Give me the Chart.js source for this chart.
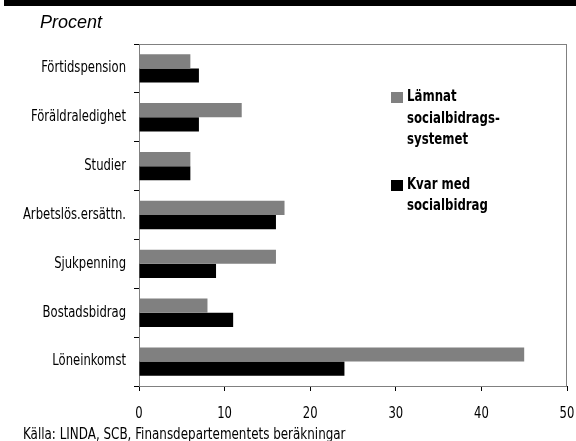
<!DOCTYPE html>
<html>
<head>
<meta charset="utf-8">
<script src="https://cdn.jsdelivr.net/npm/chart.js@4/dist/chart.umd.min.js"></script>
<style>
  html, body { margin: 0; padding: 0; background: #fff; }
  #wrap { position: relative; width: 576px; height: 441px; overflow: hidden; }
  #band { position: absolute; left: 4px; top: 0; width: 572px; height: 6px; background: #000; }
  #unit { position: absolute; left: 40px; top: 12px; font: italic 18px "Liberation Sans", Arial, sans-serif; color: #000; }
  #source { position: absolute; left: 23px; top: 425px; font: 15px "DejaVu Sans Condensed", sans-serif; color: #000; white-space: nowrap; transform: scaleX(0.885); transform-origin: 0 0; }
  #legend { position: absolute; left: 391px; top: 86px; font: bold 15px "DejaVu Sans Condensed", sans-serif; color: #000; }
  .item { position: relative; padding-left: 16px; line-height: 21.5px; }
  .item + .item { margin-top: 23px; }
  .swatch { position: absolute; left: 0; top: 6px; width: 12px; height: 11px; }
  .txt { transform: scaleX(0.87); transform-origin: 0 0; white-space: nowrap; }
  canvas { position: absolute; left: 0; top: 0; }
</style>
</head>
<body>
<div id="wrap">
  <canvas id="chart" width="576" height="441"></canvas>
  <div id="band"></div>
  <div id="unit">Procent</div>
  <div id="legend"></div>
  <div id="source">Källa: LINDA, SCB, Finansdepartementets beräkningar</div>
</div>
<script>
// Income source categories, top to bottom
const categories = ['Förtidspension', 'Föräldraledighet', 'Studier', 'Arbetslös.ersättn.', 'Sjukpenning', 'Bostadsbidrag', 'Löneinkomst'];
// Share (percent) of those who left social assistance
const lamnat = [6, 12, 6, 17, 16, 8, 45];
// Share (percent) of those remaining on social assistance
const kvar = [7, 7, 6, 16, 9, 11, 24];
// Legend text, one entry per line
const lamnatName = ['Lämnat', 'socialbidrags-', 'systemet'];
const kvarName = ['Kvar med', 'socialbidrag'];
const xTicks = [0, 10, 20, 30, 40, 50];

const GRAY = '#808080';
const BLACK = '#000000';
const FONT = '"DejaVu Sans Condensed", sans-serif';

const datasets = [
  { label: lamnatName.join(' '), lines: lamnatName, data: lamnat, backgroundColor: GRAY },
  { label: kvarName.join(' '), lines: kvarName, data: kvar, backgroundColor: BLACK }
];

// Light gray frame around the plot area, drawn under the axes
const frame = {
  id: 'frame',
  beforeDatasetsDraw(chart) {
    const { ctx, chartArea: a } = chart;
    ctx.save();
    ctx.strokeStyle = GRAY;
    ctx.lineWidth = 1;
    ctx.strokeRect(a.left + 0.5, a.top + 0.5, a.right - a.left - 1, a.bottom - a.top);
    ctx.restore();
  }
};

// Narrow the axis label lettering: text is squeezed horizontally around its anchor
const canvas = document.getElementById('chart');
const c2d = canvas.getContext('2d');
const baseFillText = c2d.fillText;
c2d.fillText = function (text, x, y, maxWidth) {
  const w = this.measureText(text).width * 0.86;
  return baseFillText.call(this, text, x, y, maxWidth === undefined ? w : Math.min(maxWidth, w));
};

new Chart(canvas, {
  type: 'bar',
  data: { labels: categories, datasets: datasets.map(d => ({ label: d.label, data: d.data, backgroundColor: d.backgroundColor, borderWidth: 0 })) },
  options: {
    indexAxis: 'y',
    responsive: false,
    animation: false,
    layout: { padding: { left: 0, right: 0, top: 44, bottom: 0 } },
    categoryPercentage: 0.58,
    barPercentage: 1.0,
    plugins: { legend: { display: false }, tooltip: { enabled: false } },
    scales: {
      x: {
        min: 0, max: 50,
        afterBuildTicks(scale) { scale.ticks = xTicks.map(v => ({ value: v })); },
        afterFit(scale) { scale.height = 55; scale.paddingLeft = 0; scale.paddingRight = 9; },
        border: { color: BLACK, width: 1 },
        grid: { drawOnChartArea: false, drawTicks: true, tickLength: 5, color: BLACK },
        ticks: { color: BLACK, font: { family: FONT, size: 15 }, padding: 14, maxRotation: 0 }
      },
      y: {
        afterFit(scale) { scale.width = 139; scale.paddingTop = 0; scale.paddingBottom = 0; },
        border: { color: BLACK, width: 1 },
        grid: { drawOnChartArea: false, drawTicks: true, tickLength: 5, color: BLACK, offset: true },
        ticks: { color: BLACK, font: { family: FONT, size: 15 }, padding: 8 }
      }
    }
  },
  plugins: [frame]
});

// Legend built from the dataset definitions
const legend = document.getElementById('legend');
datasets.forEach(d => {
  const item = document.createElement('div');
  item.className = 'item';
  const sw = document.createElement('span');
  sw.className = 'swatch';
  sw.style.background = d.backgroundColor;
  item.appendChild(sw);
  d.lines.forEach(t => {
    const line = document.createElement('div');
    line.className = 'txt';
    line.textContent = t;
    item.appendChild(line);
  });
  legend.appendChild(item);
});
</script>
</body>
</html>
